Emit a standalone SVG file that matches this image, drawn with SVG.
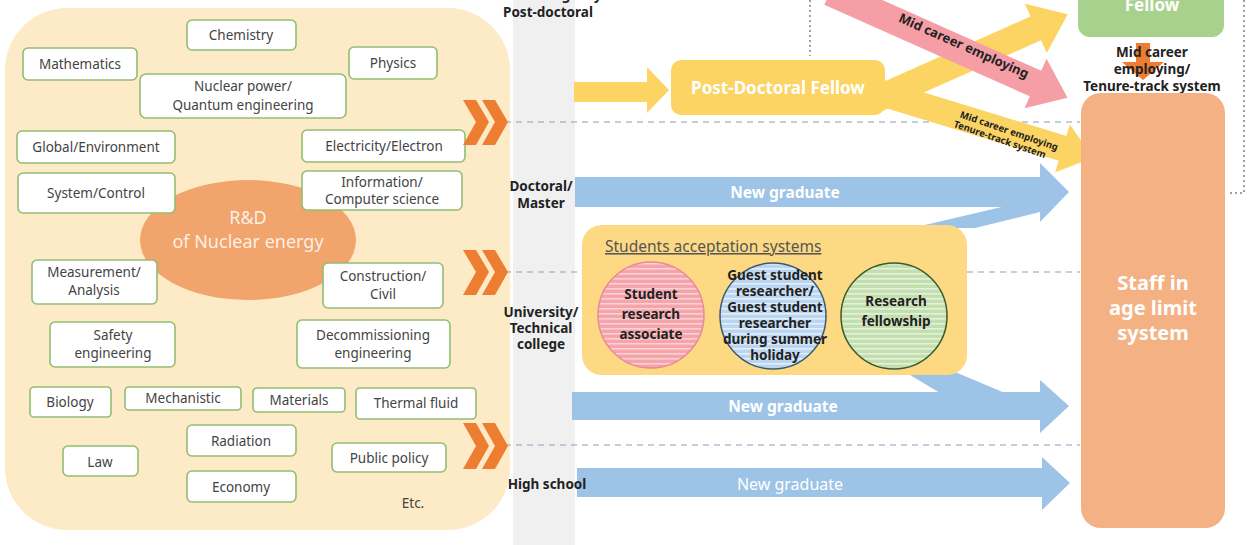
<svg xmlns="http://www.w3.org/2000/svg" width="1250" height="545" viewBox="0 0 1250 545">
<defs>
<style>
.topic rect{fill:#fff;stroke:#92bd73;stroke-width:1.6}
.topic text,.tt{font-family:"Noto Sans","DejaVu Sans",sans-serif;font-size:13.5px;fill:#444;text-anchor:middle}
.lbl{font-family:"Noto Sans","DejaVu Sans",sans-serif;font-weight:bold;font-size:13.5px;fill:#222;text-anchor:middle}
.wt{font-family:"Noto Sans","DejaVu Sans",sans-serif;font-weight:bold;fill:#fff;text-anchor:middle}
.dash{stroke:#8d9dbd;stroke-width:1.2;stroke-dasharray:6 5;fill:none}
.dot{stroke:#a0a0a0;stroke-width:2;stroke-dasharray:2 3;fill:none}
.blue{fill:#9dc3e6}
.yel{fill:#fcd463}
.chev{fill:#ed7d31}
</style>
<pattern id="pk" width="6" height="5" patternUnits="userSpaceOnUse"><rect width="6" height="5" fill="#f5a4ab"/><rect y="3" width="6" height="1.6" fill="#fbd1d4"/></pattern>
<pattern id="bl" width="6" height="5" patternUnits="userSpaceOnUse"><rect width="6" height="5" fill="#b9d5f0"/><rect y="3" width="6" height="1.6" fill="#e3effa"/></pattern>
<pattern id="gr" width="6" height="5" patternUnits="userSpaceOnUse"><rect width="6" height="5" fill="#c2dfae"/><rect y="3" width="6" height="1.6" fill="#e5f1dc"/></pattern>
</defs>
<rect width="1250" height="545" fill="#fff"/>

<g id="field-panel">
<rect x="5" y="8" width="505" height="522" rx="62" fill="#fdeac7"/>
<ellipse cx="248" cy="240" rx="108" ry="60" fill="#f2a46d"/>
<text class="wt" x="248" y="224" font-size="18" fill-opacity="0.85" style="font-weight:normal">R&amp;D</text>
<text class="wt" x="248" y="248" font-size="18" fill-opacity="0.85" style="font-weight:normal">of Nuclear energy</text>
</g>

<g id="topics">
<g class="topic" id="t-chem"><rect x="187" y="20" width="109" height="30" rx="5"/><text x="241" y="40">Chemistry</text></g>
<g class="topic" id="t-math"><rect x="23" y="48" width="114" height="32" rx="5"/><text x="80" y="69">Mathematics</text></g>
<g class="topic" id="t-phys"><rect x="349" y="47" width="88" height="32" rx="5"/><text x="393" y="68">Physics</text></g>
<g class="topic" id="t-nuc"><rect x="140" y="74" width="206" height="44" rx="6"/><text x="243" y="91" font-size="15">Nuclear power/</text><text x="243" y="110" font-size="15">Quantum engineering</text></g>
<g class="topic" id="t-glob"><rect x="17" y="131" width="158" height="32" rx="5"/><text x="96" y="152">Global/Environment</text></g>
<g class="topic" id="t-elec"><rect x="302" y="130" width="163" height="32" rx="5"/><text x="384" y="151">Electricity/Electron</text></g>
<g class="topic" id="t-sys"><rect x="18" y="173" width="157" height="40" rx="5"/><text x="96" y="198">System/Control</text></g>
<g class="topic" id="t-info"><rect x="302" y="171" width="160" height="39" rx="5"/><text x="382" y="187">Information/</text><text x="382" y="204">Computer science</text></g>
<g class="topic" id="t-meas"><rect x="32" y="260" width="125" height="44" rx="5"/><text x="94" y="277">Measurement/</text><text x="94" y="295">Analysis</text></g>
<g class="topic" id="t-cons"><rect x="323" y="263" width="120" height="45" rx="5"/><text x="383" y="281">Construction/</text><text x="383" y="299">Civil</text></g>
<g class="topic" id="t-safe"><rect x="50" y="322" width="125" height="45" rx="5"/><text x="113" y="340">Safety</text><text x="113" y="358">engineering</text></g>
<g class="topic" id="t-decom"><rect x="297" y="320" width="153" height="48" rx="5"/><text x="373" y="340">Decommissioning</text><text x="373" y="358">engineering</text></g>
<g class="topic" id="t-bio"><rect x="30" y="387" width="81" height="30" rx="4"/><text x="70" y="407">Biology</text></g>
<g class="topic" id="t-mech"><rect x="125" y="387" width="116" height="23" rx="4"/><text x="183" y="403">Mechanistic</text></g>
<g class="topic" id="t-mat"><rect x="253" y="388" width="92" height="24" rx="4"/><text x="299" y="405">Materials</text></g>
<g class="topic" id="t-therm"><rect x="356" y="388" width="120" height="31" rx="4"/><text x="416" y="408">Thermal fluid</text></g>
<g class="topic" id="t-rad"><rect x="187" y="425" width="109" height="31" rx="5"/><text x="241" y="446" font-size="17">Radiation</text></g>
<g class="topic" id="t-law"><rect x="63" y="446" width="75" height="30" rx="5"/><text x="100" y="467" font-size="17">Law</text></g>
<g class="topic" id="t-pub"><rect x="332" y="443" width="114" height="29" rx="5"/><text x="389" y="463">Public policy</text></g>
<g class="topic" id="t-econ"><rect x="187" y="471" width="109" height="31" rx="5"/><text x="241" y="492">Economy</text></g>
<text class="tt" x="413" y="508">Etc.</text>
</g>

<g id="strip">
<rect x="513" y="0" width="62" height="545" fill="#f0f0f0"/>
</g>

<g id="connectors">
<line class="dash" x1="505" y1="122" x2="1080" y2="122"/>
<line class="dash" x1="505" y1="272" x2="1080" y2="272"/>
<line class="dash" x1="505" y1="445" x2="1080" y2="445"/>
<polyline class="dot" points="810,0 810,56"/>
<polyline class="dot" points="1244,0 1244,193 1228,193"/>
<g id="chevrons">
<polygon class="chev" points="463,100 476,100 489,122 476,145 463,145 476,122"/>
<polygon class="chev" points="482,100 495,100 508,122 495,145 482,145 495,122"/>
<polygon class="chev" points="463,250 476,250 489,272 476,295 463,295 476,272"/>
<polygon class="chev" points="482,250 495,250 508,272 495,295 482,295 495,272"/>
<polygon class="chev" points="463,423 476,423 489,446 476,469 463,469 476,446"/>
<polygon class="chev" points="482,423 495,423 508,446 495,469 482,469 495,446"/>
</g>
<polygon class="yel" points="574,82 647,82 647,67 669,90 647,113 647,102 574,102"/>
<polygon class="yel" transform="translate(875,100) rotate(-24)" points="0,-13 176,-13 176,-27 211,0 176,27 176,13 0,13"/>
<polygon class="yel" transform="translate(878,92) rotate(17)" points="0,-13 193,-13 193,-25 225,0 193,25 193,13 0,13"/>
<g transform="translate(1008,134) rotate(19)" font-family="Noto Sans, DejaVu Sans, sans-serif" font-weight="bold" font-size="9.5" fill="#222" text-anchor="middle"><text x="0" y="0">Mid career employing</text><text x="-6" y="11">Tenure-track system</text></g>
<polygon fill="#f59ea6" transform="translate(830,-8) rotate(24)" points="0,-14 225,-14 225,-27 260,0 225,27 225,14 0,14"/>
<text transform="translate(962,50) rotate(24)" font-family="Noto Sans, DejaVu Sans, sans-serif" font-weight="bold" font-size="13" fill="#222" text-anchor="middle">Mid career employing</text>
<polygon class="blue" points="575,177 1040,177 1040,163 1069,192 1040,222 1040,207 575,207"/>
<polygon class="blue" points="912,228 1006,206 1040,206 1040,212 975,228"/>
<polygon class="blue" points="572,392 1040,392 1040,380 1069,406 1040,433 1040,420 572,420"/>
<polygon class="blue" points="905,372 955,372 1005,393 940,393"/>
<polygon class="blue" points="577,468 1042,468 1042,457 1070,483 1042,510 1042,497 577,497"/>
<text class="wt" x="785" y="198" font-size="15.5">New graduate</text>
<text class="wt" x="783" y="412" font-size="15.5">New graduate</text>
<text class="wt" x="790" y="490" font-size="16" style="font-weight:normal">New graduate</text>
<polygon fill="#ed7d31" points="1136,43 1150,43 1150,62 1164,62 1143,80 1122,62 1136,62"/>
</g>

<g id="strip-labels">
<text class="lbl" x="548" y="0">Research agency/</text>
<text class="lbl" x="548" y="17">Post-doctoral</text>
<text class="lbl" x="541" y="191">Doctoral/</text>
<text class="lbl" x="541" y="208">Master</text>
<text class="lbl" x="541" y="317">University/</text>
<text class="lbl" x="541" y="333">Technical</text>
<text class="lbl" x="541" y="349">college</text>
<text class="lbl" x="547" y="489">High school</text>
</g>

<g id="postdoc">
<rect x="671" y="60" width="214" height="55" rx="10" fill="#fcd463"/>
<text class="wt" x="778" y="94" font-size="17">Post-Doctoral Fellow</text>
</g>

<g id="fellow">
<rect x="1078" y="-15" width="146" height="52" rx="12" fill="#a9d18e"/>
<text class="wt" x="1152" y="11" font-size="17">Fellow</text>
</g>
<g id="fellow-label">
<text class="lbl" x="1152" y="57">Mid career</text>
<text class="lbl" x="1152" y="74">employing/</text>
<text class="lbl" x="1152" y="91">Tenure-track system</text>
</g>

<g id="staff">
<rect x="1081" y="93" width="144" height="435" rx="20" fill="#f4b183"/>
<text class="wt" x="1153" y="290" font-size="20">Staff in</text>
<text class="wt" x="1153" y="315" font-size="20">age limit</text>
<text class="wt" x="1153" y="340" font-size="20">system</text>
</g>

<g id="students">
<rect x="582" y="225" width="385" height="150" rx="20" fill="#fdd983"/>
<text x="605" y="252" font-family="Noto Sans, DejaVu Sans, sans-serif" font-size="15.5" fill="#555" text-decoration="underline">Students acceptation systems</text>
<g id="c-sra">
<circle cx="651" cy="315" r="53" fill="url(#pk)" stroke="#e98a94" stroke-width="1.5"/>
<text class="lbl" x="651" y="299" font-size="15.5">Student</text>
<text class="lbl" x="651" y="319" font-size="15.5">research</text>
<text class="lbl" x="651" y="339" font-size="15.5">associate</text>
</g>
<g id="c-gsr">
<circle cx="773" cy="316" r="53" fill="url(#bl)" stroke="#3c5a6e" stroke-width="1.5"/>
<text x="775" y="280" class="lbl" font-size="12">Guest student</text>
<text x="775" y="296" class="lbl" font-size="12">researcher/</text>
<text x="775" y="312" class="lbl" font-size="12">Guest student</text>
<text x="775" y="328" class="lbl" font-size="12">researcher</text>
<text x="775" y="344" class="lbl" font-size="12">during summer</text>
<text x="775" y="360" class="lbl" font-size="12">holiday</text>
</g>
<g id="c-rf">
<circle cx="894" cy="316" r="53" fill="url(#gr)" stroke="#3d5a2a" stroke-width="1.5"/>
<text class="lbl" x="896" y="306" font-size="15.5">Research</text>
<text class="lbl" x="896" y="326" font-size="15.5">fellowship</text>
</g>
</g>
</svg>
